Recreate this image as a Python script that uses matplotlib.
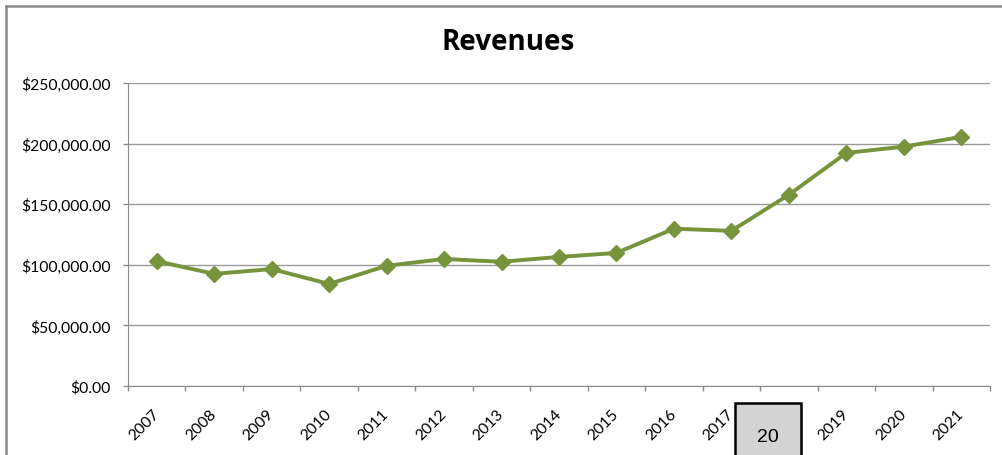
import matplotlib
matplotlib.use("Agg")
import matplotlib.pyplot as plt
from matplotlib.lines import Line2D
from matplotlib.patches import Rectangle
from matplotlib.ticker import FuncFormatter, FixedLocator

# data
years = ["2007", "2008", "2009", "2010", "2011", "2012", "2013", "2014",
         "2015", "2016", "2017", "2018", "2019", "2020", "2021"]
revenues = [103000, 92500, 96500, 84200, 99200, 104800, 102500, 106500,
            109800, 129800, 128000, 157800, 192300, 197500, 205500]
y_ticks = [0, 50000, 100000, 150000, 200000, 250000]

W, H = 1002, 456
fig = plt.figure(figsize=(W / 100, H / 100), dpi=100)
fig.patch.set_facecolor("white")

# axes placed in pixel terms
left, right, top, bottom = 128, 990, 84, 387
ax = fig.add_axes([left / W, 1 - bottom / H, (right - left) / W, (bottom - top) / H])

x = list(range(len(years)))
ax.plot(x, revenues, color="#77933C", lw=2.8, marker="D", ms=8,
        mec="#77933C", mfc="#77933C", zorder=3, clip_on=False)

ax.set_xlim(-0.5, len(years) - 0.5)
ax.set_ylim(0, 250000)
ax.set_yticks(y_ticks)
ax.yaxis.set_major_formatter(FuncFormatter(lambda v, p: "${:,.2f}".format(v)))
ax.grid(axis="y", color="#9a9a9a", lw=1)
ax.set_axisbelow(True)

# category labels at centres, tick marks at boundaries
ax.set_xticks(x)
ax.set_xticklabels(years, rotation=45, ha="right", va="center",
                   rotation_mode="anchor", family="Lato", fontsize=11.3)
ax.xaxis.set_minor_locator(FixedLocator([i - 0.5 for i in range(len(years) + 1)]))
ax.tick_params(axis="x", which="major", length=0, pad=18)
ax.tick_params(axis="x", which="minor", length=3.6, color="#8c8c8c", width=1)
ax.tick_params(axis="y", length=3.6, color="#8c8c8c", width=1, pad=9)
for lbl in ax.get_yticklabels():
    lbl.set_family("Lato")
    lbl.set_fontsize(11.3)

for s in ["top", "right"]:
    ax.spines[s].set_visible(False)
ax.spines["left"].set_color("#8c8c8c")
ax.spines["bottom"].set_color("#8c8c8c")

fig.text(508 / W, 1 - 43 / H, "Revenues", ha="center", va="center",
         fontsize=20, fontweight="bold", family="Open Sans")

# chart frame (open at right and bottom)
fig.add_artist(Line2D([6 / W, 1], [1 - 7 / H, 1 - 7 / H], color="#8a8a8a", lw=1.8))
fig.add_artist(Line2D([6 / W, 6 / W], [0, 1 - 7 / H], color="#8a8a8a", lw=1.8))

# grey overlay box covering the 2018 label
fig.add_artist(Rectangle((735 / W, -0.02), (801 - 735) / W, (1 - 404 / H) + 0.02,
                         transform=fig.transFigure, facecolor="#d3d3d3",
                         edgecolor="black", lw=1.8, zorder=10))
fig.text(768 / W, 1 - 438 / H, "20", ha="center", va="center",
         fontsize=14, family="Liberation Sans", zorder=11)

fig.savefig("out.png", dpi=100)
